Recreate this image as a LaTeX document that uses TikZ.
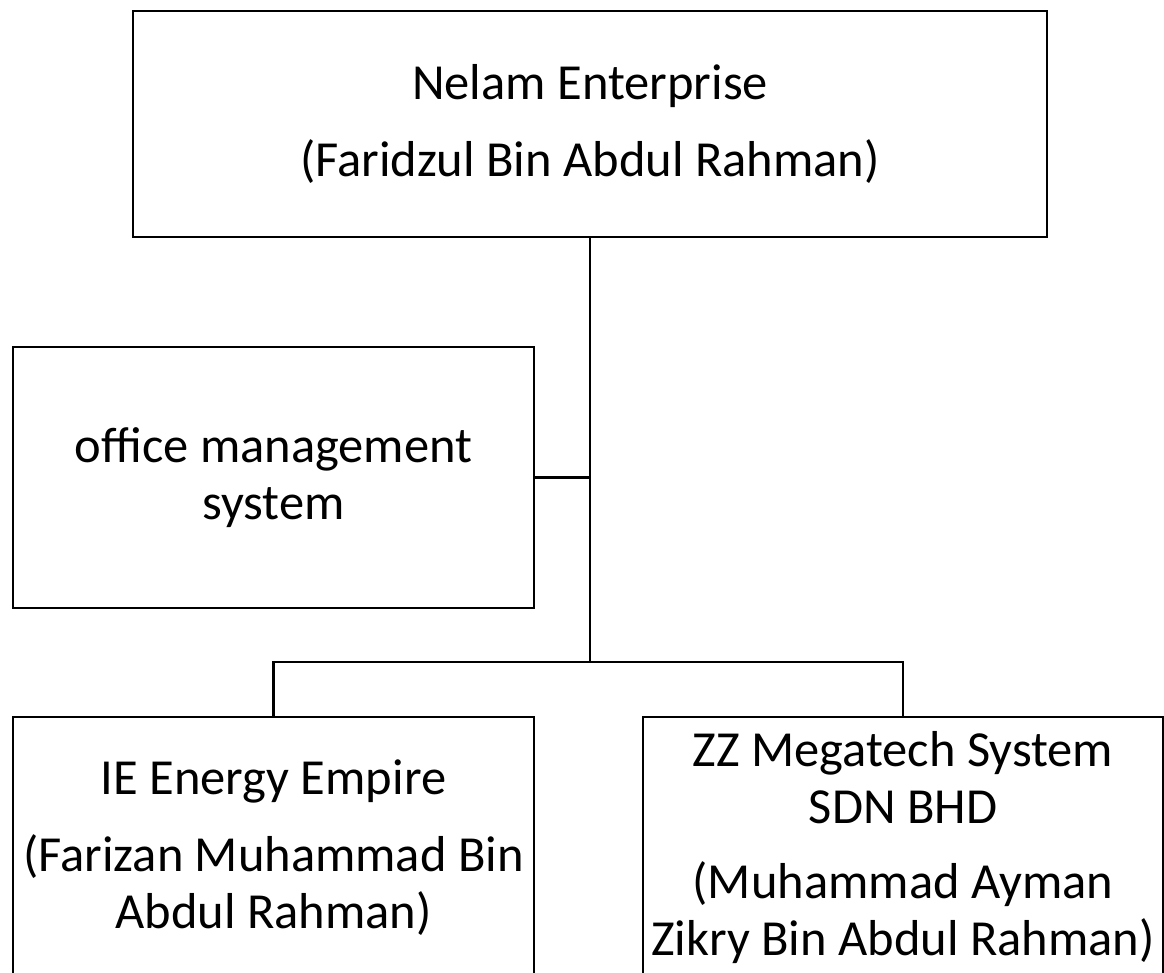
\documentclass[tikz,border=0pt]{standalone}
\usepackage{fontspec}
\setmainfont{Carlito}
\begin{document}
\begin{tikzpicture}[x=1pt,y=-1pt,
  orgbox/.style={draw=black,line width=2.6pt,rectangle,inner sep=0pt,align=center,
    font=\fontsize{50.5}{57}\selectfont},
  link/.style={draw=black,line width=2.4pt}]
\useasboundingbox (0,0) rectangle (1164,973);
\begin{scope}
\clip (0,0) rectangle (1164,973);
\node[orgbox,minimum width=914pt,minimum height=226pt] (top) at (590,124)
  {Nelam Enterprise\\[20pt](Faridzul Bin Abdul Rahman)};
\node[orgbox,minimum width=521pt,minimum height=261pt] (office) at (273.5,477.5)
  {office management\\system};
\node[orgbox,minimum width=521pt,minimum height=262pt] (bl) at (273.5,848)
  {IE Energy Empire\\[20pt](Farizan Muhammad Bin\\Abdul Rahman)};
\node[orgbox,minimum width=520pt,minimum height=262pt] (br) at (903,848)
  {ZZ Megatech System\\SDN BHD\\[18pt](Muhammad Ayman\\Zikry Bin Abdul Rahman)};
\coordinate (fork) at (top.south |- 0,662);
\draw[link] (top.south) -- (fork);
\draw[link] (office.east) -- (office.east -| top.south);
\draw[link] (fork) -| (bl.north);
\draw[link] (fork) -| (br.north);
\end{scope}
\end{tikzpicture}
\end{document}
